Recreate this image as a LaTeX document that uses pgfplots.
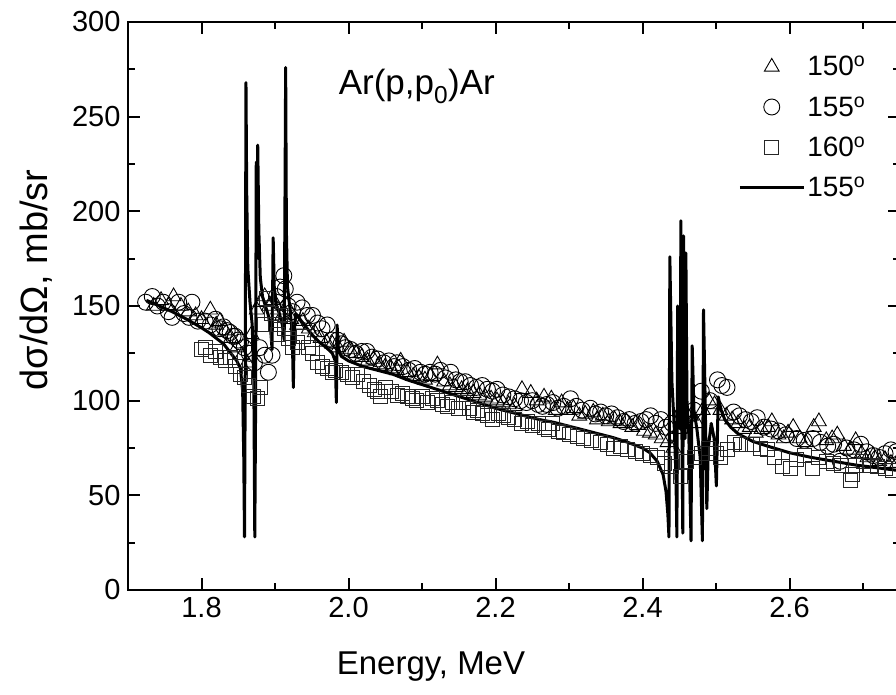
\documentclass[border=0pt]{standalone}
\usepackage{fontspec}
\setmainfont{Liberation Sans}
\usepackage{pgfplots}
\usepackage{pgfplotstable}
\pgfplotsset{compat=1.18}

\pgfplotstableread{
x y
1.735 150
1.745 153
1.755 150
1.762 155
1.772 150
1.782 147
1.792 145
1.800 143
1.812 148
1.820 140
1.825 142
1.832 137
1.840 133
1.848 128
1.855 124
1.862 120
1.868 135
1.875 148
1.880 152
1.886 155
1.892 150
1.898 153
1.904 148
1.910 145
1.916 150
1.922 143
1.930 140
1.938 142
1.946 138
1.954 136
1.962 133
1.970 131
1.978 130
1.986 128
1.994 131
2.002 127
2.010 125
2.018 123
2.026 121
2.034 122
2.042 119
2.050 118
2.058 117
2.066 116
2.071 121
2.080 115
2.088 113
2.096 112
2.104 111
2.112 113
2.121 119
2.130 110
2.138 108
2.146 107
2.154 106
2.162 105
2.170 104
2.178 103
2.186 102
2.194 101
2.202 100
2.210 99
2.218 98
2.226 97
2.236 106
2.248 104
2.256 100
2.266 102
2.276 101
2.282 95
2.290 99
2.298 95
2.306 96
2.314 92
2.322 93
2.333 94
2.338 90
2.346 92
2.354 89
2.362 90
2.370 88
2.378 89
2.386 86
2.394 87
2.402 84
2.410 83
2.418 82
2.426 80
2.434 78
2.442 75
2.450 85
2.458 88
2.466 92
2.474 88
2.482 95
2.490 100
2.498 98
2.506 95
2.514 92
2.522 90
2.530 88
2.538 85
2.546 86
2.554 83
2.562 85
2.571 86
2.576 89
2.585 82
2.592 80
2.598 83
2.605 86
2.614 80
2.622 78
2.633 86
2.640 89
2.650 79
2.658 80
2.665 82
2.674 76
2.682 74
2.690 79
2.698 72
2.706 70
2.714 71
2.722 68
2.730 69
2.738 67
2.745 66
}\tabA

\pgfplotstableread{
x y
1.724 152
1.733 155
1.740 150
1.748 152
1.755 147
1.760 144
1.769 152
1.776 146
1.783 144
1.787 152
1.795 142
1.805 142
1.812 140
1.819 143
1.825 138
1.830 139
1.835 137
1.839 136
1.843 134
1.846 134
1.850 132
1.853 131
1.858 128
1.865 125
1.872 120
1.879 128
1.886 124
1.891 115
1.896 124
1.902 155
1.907 160
1.912 166
1.914 159
1.918 150
1.924 147
1.930 152
1.937 149
1.944 145
1.951 145
1.958 141
1.964 138
1.971 140
1.978 132
1.985 132
1.990 130
1.996 128
2.003 127
2.010 125
2.018 126
2.025 126
2.032 123
2.040 122
2.048 120
2.055 121
2.062 118
2.066 120
2.074 118
2.082 116
2.090 117
2.098 115
2.104 114
2.111 115
2.118 114
2.125 116
2.132 112
2.139 115
2.146 111
2.152 110
2.159 110
2.166 108
2.174 107
2.182 108
2.189 106
2.196 105
2.202 106
2.210 103
2.218 102
2.226 101
2.234 100
2.242 99
2.250 100
2.258 98
2.264 97
2.270 98
2.278 99
2.285 96
2.293 97
2.302 101
2.310 97
2.318 95
2.329 96
2.336 93
2.343 94
2.350 92
2.358 93
2.366 91
2.374 89
2.382 90
2.390 88
2.398 89
2.405 90
2.411 92
2.418 88
2.425 90
2.432 86
2.440 88
2.455 93
2.470 95
2.480 105
2.492 100
2.502 111
2.508 108
2.515 107
2.524 94
2.532 92
2.540 90
2.548 89
2.556 91
2.565 86
2.575 85
2.585 84
2.595 82
2.610 80
2.620 79
2.632 80
2.642 78
2.652 76
2.660 77
2.669 68
2.678 75
2.688 74
2.697 77
2.705 73
2.714 71
2.722 70
2.730 72
2.738 74
2.745 73
}\tabB

\pgfplotstableread{
x y
1.800 127
1.805 128
1.812 124
1.819 126
1.826 123
1.833 121
1.839 123
1.846 118
1.853 114
1.858 112
1.864 108
1.871 102
1.876 101
1.880 107
1.885 140
1.889 154
1.895 146
1.900 140
1.903 135
1.908 145
1.913 138
1.918 133
1.924 128
1.930 131
1.939 134
1.945 128
1.951 125
1.958 120
1.965 118
1.971 117
1.978 115
1.982 116
1.990 115
1.998 114
2.006 112
2.012 114
2.020 110
2.028 108
2.035 106
2.039 105
2.043 102
2.050 107
2.058 105
2.066 103
2.073 104
2.080 102
2.087 101
2.093 100
2.100 102
2.107 99
2.114 101
2.121 100
2.128 98
2.135 97
2.142 99
2.150 96
2.157 99
2.164 96
2.170 94
2.175 95
2.182 93
2.189 92
2.196 90
2.204 93
2.211 92
2.218 91
2.226 90
2.235 88
2.243 89
2.250 87
2.258 88
2.266 86
2.272 85
2.277 88
2.285 84
2.293 83
2.300 82
2.311 81
2.320 80
2.330 79
2.343 78
2.352 77
2.361 75
2.370 76
2.380 74
2.390 73
2.400 72
2.411 71
2.420 70
2.430 67
2.440 65
2.452 60
2.460 68
2.470 70
2.480 72
2.490 75
2.500 72
2.506 70
2.515 74
2.525 78
2.533 77
2.542 77
2.550 77
2.560 75
2.570 74
2.580 70
2.590 65
2.601 64
2.610 69
2.620 71
2.631 64
2.640 70
2.650 68
2.660 67
2.670 66
2.683 58
2.685 61
2.690 66
2.700 68
2.710 66
2.720 65
2.730 64
2.740 63
}\tabC

\pgfplotstableread{
x y
1.725 153
1.74 150.5
1.76 147
1.78 143
1.80 138.5
1.81 136
1.82 133
1.83 130
1.84 125
1.848 121
1.853 117
1.856 105
1.8575 70
1.8585 28
1.8595 110
1.8605 268
1.8615 210
1.863 170
1.866 152
1.869 140
1.8712 110
1.8725 28
1.8735 90
1.8745 226
1.8755 175
1.8765 235
1.878 190
1.880 165
1.883 155
1.887 150
1.891 145
1.894 138
1.896 127
1.8975 186
1.899 160
1.902 150
1.906 146
1.910 140
1.9125 132
1.9135 200
1.9145 276
1.9155 190
1.917 160
1.920 150
1.9225 140
1.924 125
1.925 107
1.926 135
1.928 146
1.932 144
1.94 140
1.95 135
1.96 131
1.97 128
1.978 125
1.982 121
1.9835 99
1.9845 140
1.986 128
1.99 123.5
2.00 121
2.02 118
2.04 116
2.06 114
2.08 111
2.10 108.5
2.12 106
2.14 103.5
2.16 101
2.18 98.5
2.20 96
2.22 94
2.24 92
2.26 90
2.28 88.5
2.30 86.5
2.32 84.5
2.34 82.5
2.36 80.5
2.38 78
2.40 75
2.41 72.5
2.42 68
2.428 61
2.432 52
2.4345 40
2.436 28
2.4372 176
2.440 110
2.443 88
2.4455 60
2.4468 28
2.4478 150
2.4495 100
2.4512 85
2.4522 195
2.4535 90
2.4548 30
2.4558 187
2.4570 100
2.4580 80
2.4590 178
2.4605 100
2.4630 82
2.4660 26
2.4676 129
2.4700 95
2.4740 85
2.4785 70
2.4815 26
2.4830 148
2.4855 95
2.4875 43
2.4895 75
2.4935 88
2.4975 80
2.5005 55
2.5030 102
2.507 95
2.512 90
2.52 86
2.53 82.5
2.55 78.5
2.57 76
2.60 72.5
2.63 70
2.66 68
2.69 66
2.72 64.5
2.75 63
}\tabT

\begin{document}
\begin{tikzpicture}
\begin{axis}[
  at={(0,0)}, anchor=south west,
  scale only axis, width=771.75pt, height=568pt,
  xmin=1.70, xmax=2.75, ymin=0, ymax=300,
  xtick={1.8,2.0,2.2,2.4,2.6},
  xticklabels={1.8,2.0,2.2,2.4,2.6},
  minor xtick={1.7,1.9,2.1,2.3,2.5,2.7},
  ytick={0,50,100,150,200,250,300},
  yticklabels={0,50,100,150,200,250,300},
  minor ytick={25,75,125,175,225,275},
  tick align=inside,
  major tick length=12pt, minor tick length=7pt,
  tick style={line width=2pt, black},
  axis line style={line width=2pt},
  tick label style={font=\fontsize{29}{34}\selectfont},
  xticklabel style={yshift=-4pt},
  yticklabel style={xshift=-4pt},
  label style={font=\fontsize{33}{40}\selectfont},
  xlabel={Energy, MeV},
  ylabel={dσ/dΩ, mb/sr},
  x label style={at={(axis description cs:0.3926,-0.134)}, anchor=center},
  y label style={at={(axis description cs:-0.119,0.546)}, anchor=center, rotate=0, font=\fontsize{38}{44}\selectfont},
  legend style={draw=none, fill=none, at={(axis cs:2.53,283)}, anchor=north west,
    font=\fontsize{28}{33}\selectfont, row sep=15pt, inner sep=0pt},
  legend cell align=left,
  legend image code/.code={\draw[mark repeat=2,mark phase=2,#1] plot coordinates {(0pt,0pt) (32pt,0pt) (64pt,0pt)};},
]
\addplot[only marks, mark=triangle, mark size=8.5pt, mark options={line width=0.9pt, black}] table {\tabA};
\addlegendentry{150\textsuperscript{o}}
\addplot[only marks, mark=o, mark size=8pt, mark options={line width=0.9pt, black}] table {\tabB};
\addlegendentry{155\textsuperscript{o}}
\addplot[only marks, mark=square, mark size=7pt, mark options={line width=0.9pt, black!85}] table {\tabC};
\addlegendentry{160\textsuperscript{o}}
\addplot[black, line width=3pt, line join=round, no marks] table {\tabT};
\addlegendentry{155\textsuperscript{o}}
\node[anchor=base west, font=\fontsize{35}{42}\selectfont] at (axis cs:1.982,261.5) {Ar(p,p\textsubscript{0})Ar};
\end{axis}
\pgfresetboundingbox
\path[use as bounding box] (-128pt,-105pt) rectangle (768pt,590pt);
\end{tikzpicture}
\end{document}
